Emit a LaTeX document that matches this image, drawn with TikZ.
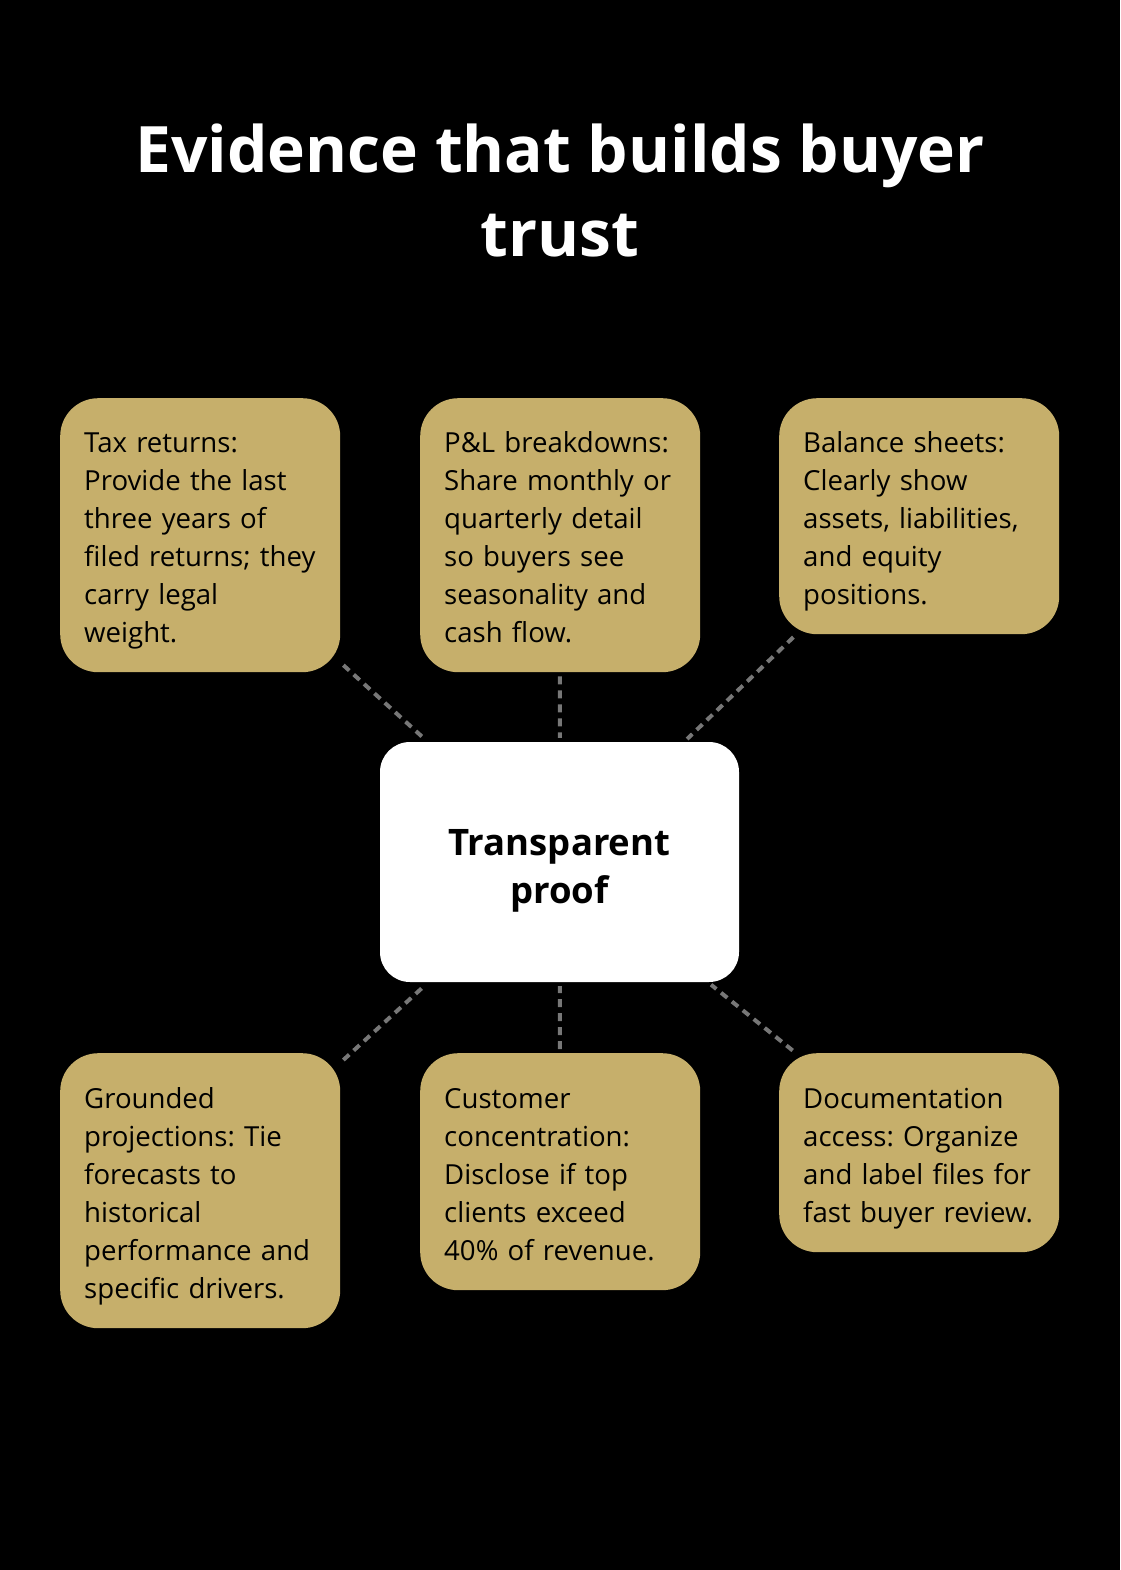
\documentclass[tikz,border=0pt]{standalone}
\usepackage{fontspec}
\setmainfont{Open Sans}
\frenchspacing
\usetikzlibrary{positioning}

\definecolor{gold}{HTML}{C6AF6B}
\definecolor{linkgray}{HTML}{777777}
\newcommand{\cardstrutlow}{\rule[-10pt]{0pt}{10pt}}

\begin{document}
\begin{tikzpicture}[x=1pt,y=-1pt,
link/.style={draw=linkgray,line width=4pt,dash pattern=on 8pt off 6pt,shorten <=4pt,shorten >=4pt}]
\tikzstyle{card}=[fill=gold,rounded corners=38pt,draw=none,text=black,align=left,
text width=232pt,inner xsep=24pt,inner ysep=0pt,anchor=north west,
font=\fontsize{27.6}{38}\selectfont,
execute at begin node={\rule{0pt}{35pt}},execute at end node={\cardstrutlow}]
\tikzstyle{hub}=[fill=white,rounded corners=30pt,text width=311pt,inner xsep=24pt,
minimum height=240pt,align=center,font=\fontsize{36.5}{48}\selectfont\bfseries,
execute at begin node={\rule{0pt}{44pt}},execute at end node={\cardstrutlow}]

% background and size
\fill[black] (0,0) rectangle (1120,1570);
\useasboundingbox (0,0) rectangle (1120,1570);

\node[align=center,text=white,font=\fontsize{64}{84}\selectfont\bfseries] (title) at (560,190)
  {Evidence that builds buyer\\trust};

\node[hub] (proof) at (559.5,862) {Transparent\\proof};

\node[card,minimum height=274pt] (tax) at (60,398)
  {Tax returns:\\Provide the last\\three years of\\filed returns; they\\carry legal\\weight.};
\node[card,minimum height=274pt] (pnl) at (420,398)
  {P\&L breakdowns:\\Share monthly or\\quarterly detail\\so buyers see\\seasonality and\\cash flow.};
\node[card,minimum height=236pt] (balance) at (779,398)
  {Balance sheets:\\Clearly show\\assets, liabilities,\\and equity\\positions.};

\node[card,minimum height=275pt] (projections) at (60,1053)
  {Grounded\\projections: Tie\\forecasts to\\historical\\performance and\\specific drivers.};
\node[card,minimum height=237pt] (customers) at (420,1053)
  {Customer\\concentration:\\Disclose if top\\clients exceed\\40\% of revenue.};
\node[card,minimum height=199pt] (docs) at (779,1053)
  {Documentation\\access: Organize\\and label files for\\fast buyer review.};

\path[link] (tax) edge (proof)
(pnl) edge (proof)
(balance) edge (proof)
(projections) edge (proof)
(customers) edge (proof)
(docs) edge (proof);
\end{tikzpicture}
\end{document}
